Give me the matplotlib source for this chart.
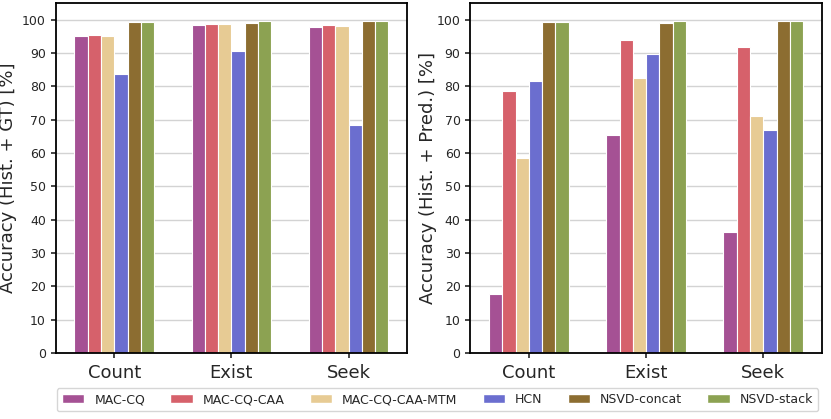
import matplotlib
matplotlib.use("Agg")
import matplotlib.pyplot as plt
import numpy as np
from matplotlib.patches import Patch

categories = ["Count", "Exist", "Seek"]
models = ["MAC-CQ", "MAC-CQ-CAA", "MAC-CQ-CAA-MTM", "HCN", "NSVD-concat", "NSVD-stack"]
colors = ["#a55194", "#d6616b", "#e7cb94", "#6b6ecf", "#8c6d31", "#8ca252"]

# rows: models, columns: categories
acc_gt = [
    [95.0, 98.4, 97.7],
    [95.3, 98.8, 98.3],
    [95.0, 98.6, 98.0],
    [83.6, 90.7, 68.3],
    [99.3, 99.0, 99.5],
    [99.3, 99.7, 99.6],
]
acc_pred = [
    [17.9, 65.3, 36.2],
    [78.6, 93.8, 91.9],
    [58.6, 82.5, 71.0],
    [81.6, 89.7, 67.0],
    [99.2, 99.0, 99.5],
    [99.2, 99.6, 99.5],
]
ylabels = ["Accuracy (Hist. + GT) [%]", "Accuracy (Hist. + Pred.) [%]"]

fig = plt.figure(figsize=(8.31, 4.19), dpi=100)
ax1 = fig.add_axes([0.067, 0.157, 0.423, 0.836])
ax2 = fig.add_axes([0.566, 0.157, 0.423, 0.836])

x = np.arange(len(categories))
n = len(models)
group_w = 0.68
bw = group_w / n

label_x = [-0.110, -0.094]
for ax, data, yl, lx in zip([ax1, ax2], [acc_gt, acc_pred], ylabels, label_x):
    ax.set_axisbelow(True)
    ax.yaxis.grid(True, color="#d3d3d3", linewidth=1.0)
    for i, (m, c) in enumerate(zip(models, colors)):
        off = -group_w / 2 + bw * (i + 0.5)
        ax.bar(x + off, data[i], width=bw, color=c, edgecolor="white", linewidth=0.8)
    ax.set_xlim(-0.5, 2.5)
    ax.set_ylim(0, 105)
    ax.set_yticks(np.arange(0, 101, 10))
    ax.set_xticks(x)
    ax.set_xticklabels(categories, fontsize=13, color="#262626")
    ax.tick_params(axis="y", labelsize=9, colors="#262626", length=3.5, width=1.2)
    ax.tick_params(axis="x", length=3.5, width=1.2, colors="#262626", pad=4)
    for s in ax.spines.values():
        s.set_linewidth(1.3)
        s.set_color("black")
    ax.set_ylabel(yl, fontsize=13, color="#262626")
    ax.yaxis.set_label_coords(lx, 0.5)

handles = [Patch(facecolor=c, edgecolor="white", label=m) for m, c in zip(models, colors)]
leg = fig.legend(handles=handles, ncol=6, loc="lower center",
                 bbox_to_anchor=(0.5265, 0.019),
                 fontsize=9, frameon=True, edgecolor="#cccccc", handlelength=1.8,
                 handletextpad=0.8, columnspacing=2.0, borderaxespad=0.0)
for t in leg.get_texts():
    t.set_color("#262626")

fig.savefig("out.png", dpi=100)
